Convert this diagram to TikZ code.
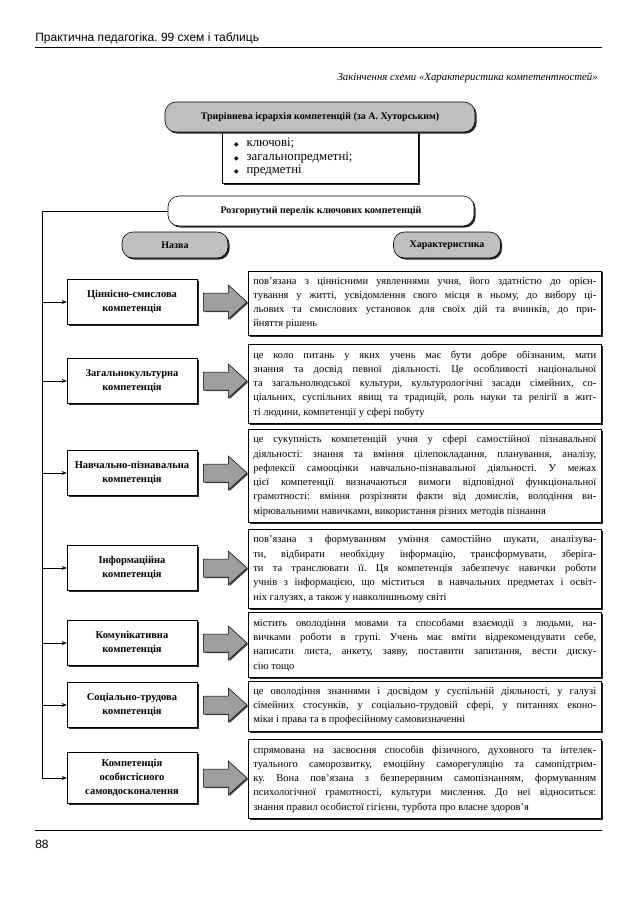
\documentclass[tikz,border=0pt]{standalone}
\usepackage{fontspec}
\setmainfont{Liberation Serif}
\newfontfamily\headfont{Liberation Sans}
\newfontfamily\symfont{DejaVu Sans}
\usepackage{tikz}
\usetikzlibrary{shadows}
\usetikzlibrary{arrows.meta}
\usetikzlibrary{calc}
\frenchspacing

\newcommand{\lbul}{{\symfont\fontsize{6}{6}\selectfont ◆}\hspace{8pt}}
% grey block arrow from a name box to its description
\newcommand{\blockarrow}[2]{%
  \draw[blockarr] ($(#1.east)+(6,-9)$) -- ($(#1.east)+(31,-9)$) -- ($(#1.east)+(31,-17)$)
    -- ($(#2.west|-#1.east)+(-1,0)$) -- ($(#1.east)+(31,17)$) -- ($(#1.east)+(31,9)$)
    -- ($(#1.east)+(6,9)$) -- cycle;}

\tikzset{
  shade/.style={drop shadow={shadow xshift=1.6pt,shadow yshift=-1.6pt,opacity=1,fill=black!85}},
  hbox/.style={draw,rounded corners=11pt,fill=black!25,inner sep=0pt,font=\bfseries\fontsize{10}{12}\selectfont,shade},
  wbox/.style={draw,rounded corners=11pt,fill=white,inner sep=0pt,font=\bfseries\fontsize{10}{12}\selectfont,shade},
  listbox/.style={draw,fill=white,text width=172pt,inner xsep=12pt,inner ysep=7pt,align=left,font=\fontsize{12.8}{13.6}\selectfont,shade},
  namebox/.style={draw,fill=white,minimum width=130pt,minimum height=45pt,align=center,font=\bfseries\fontsize{10.5}{14}\selectfont,shade},
  blockarr/.style={draw,fill=black!38,line width=0.5pt,drop shadow={shadow xshift=1.2pt,shadow yshift=-1.2pt,opacity=1,fill=black!70}},
  descr/.style={draw,fill=white,text width=343pt,inner xsep=5pt,inner ysep=6pt,align=justify,font=\fontsize{10.5}{14.3}\selectfont,shade},
  link/.style={-{Stealth[length=5pt,width=4pt]}}
}

\begin{document}
\begin{tikzpicture}[x=1pt,y=-1pt,line width=0.6pt]
\useasboundingbox (0,0) rectangle (638,903);
% page head
\node[anchor=base west,inner sep=0pt,font=\headfont\fontsize{12}{14}\selectfont] at (35,41) (title){Практична педагогіка. 99 схем і таблиць};
\draw[line width=1pt] (35,47) -- (602,47);
\node[anchor=base east,inner sep=0pt,font=\itshape\fontsize{10.8}{12}\selectfont] at (598,80) (caption){Закінчення схеми «Характеристика компетентностей»};

% hierarchy
\node[listbox,anchor=north] at (320,131) (lvl){\lbul ключові;\\\lbul загальнопредметні;\\\lbul предметні};
\node[hbox,minimum width=310pt,minimum height=30pt] at (320,117) (hier){Трирівнева ієрархія компетенцій (за А. Хуторським)};

\node[wbox,minimum width=306pt,minimum height=30pt] at (321,211) (full){Розгорнутий перелік ключових компетенцій};
\node[hbox,minimum width=106pt,minimum height=26pt] at (175,245) (name){Назва};
\node[hbox,minimum width=107pt,minimum height=26pt] at (447,245) (char){Характеристика};

% rows
\node[namebox] at (132,302) (c1){Ціннісно-смислова\\компетенція};
\node[descr,anchor=west] at ([xshift=116pt,yshift=-1pt]c1.center) (d1){пов’язана з ціннісними уявленнями учня, його здатністю до орієн-\linebreak
тування у житті, усвідомлення свого місця в ньому, до вибору ці-\linebreak
льових та смислових установок для своїх дій та вчинків, до при-\linebreak
йняття рішень};
\blockarrow{c1}{d1}

\node[namebox] at (132,381) (c2){Загальнокультурна\\компетенція};
\node[descr,anchor=west] at ([xshift=116pt,yshift=-3pt]c2.center) (d2){це коло питань у яких учень має бути добре обізнаним, мати\linebreak
знання та досвід певної діяльності. Це особливості національної\linebreak
та загальнолюдської культури, культурологічні засади сімейних, со-\linebreak
ціальних, суспільних явищ та традицій, роль науки та релігії в жит-\linebreak
ті людини, компетенції у сфері побуту};
\blockarrow{c2}{d2}

\node[namebox] at (132,473) (c3){Навчально-пізнавальна\\компетенція};
\node[descr,anchor=west] at ([xshift=116pt,yshift=-3pt]c3.center) (d3){це сукупність компетенцій учня у сфері самостійної пізнавальної\linebreak
діяльності: знання та вміння цілепокладання, планування, аналізу,\linebreak
рефлексії самооцінки навчально-пізнавальної діяльності. У межах\linebreak
цієї компетенції визначаються вимоги відповідної функціональної\linebreak
грамотності: вміння розрізняти факти від домислів, володіння ви-\linebreak
мірювальними навичками, використання різних методів пізнання};
\blockarrow{c3}{d3}

\node[namebox] at (132,568) (c4){Інформаційна\\компетенція};
\node[descr,anchor=west] at ([xshift=116pt,yshift=-1pt]c4.center) (d4){пов’язана з формуванням уміння самостійно шукати, аналізува-\linebreak
ти, відбирати необхідну інформацію, трансформувати, зберіга-\linebreak
ти та транслювати її. Ця компетенція забезпечує навички роботи\linebreak
учнів з інформацією, що міститься \ в навчальних предметах і освіт-\linebreak
ніх галузях, а також у навколишньому світі};
\blockarrow{c4}{d4}

\node[namebox] at (132,643) (c5){Комунікативна\\компетенція};
\node[descr,anchor=west] at ([xshift=116pt,yshift=-2pt]c5.center) (d5){містить оволодіння мовами та способами взаємодії з людьми, на-\linebreak
вичками роботи в групі. Учень має вміти відрекомендувати себе,\linebreak
написати листа, анкету, заяву, поставити запитання, вести диску-\linebreak
сію тощо};
\blockarrow{c5}{d5}

\node[namebox] at (132,705) (c6){Соціально-трудова\\компетенція};
\node[descr,anchor=west] at ([xshift=116pt,yshift=-1pt]c6.center) (d6){це оволодіння знаннями і досвідом у суспільній діяльності, у галузі\linebreak
сімейних стосунків, у соціально-трудовій сфері, у питаннях еконо-\linebreak
міки і права та в професійному самовизначенні};
\blockarrow{c6}{d6}

\node[namebox,minimum height=51pt] at (132,778) (c7){Компетенція\\особистісного\\самовдосконалення};
\node[descr,anchor=west] at ([xshift=116pt,yshift=-1pt]c7.center) (d7){спрямована на засвоєння способів фізичного, духовного та інтелек-\linebreak
туального саморозвитку, емоційну саморегуляцію та самопідтрим-\linebreak
ку. Вона пов’язана з безперервним самопізнанням, формуванням\linebreak
психологічної грамотності, культури мислення. До неї відноситься:\linebreak
знання правил особистої гігієни, турбота про власне здоров’я};
\blockarrow{c7}{d7}

% trunk
\coordinate (trunk) at (42,211);
\draw[link] (full.west) -- (trunk) |- (c7.west);
\draw[link] (c1.west -| trunk) -- (c1.west);
\draw[link] (c2.west -| trunk) -- (c2.west);
\draw[link] (c3.west -| trunk) -- (c3.west);
\draw[link] (c4.west -| trunk) -- (c4.west);
\draw[link] (c5.west -| trunk) -- (c5.west);
\draw[link] (c6.west -| trunk) -- (c6.west);

% page foot
\draw[line width=0.8pt] (35,830) -- (602,830);
\node[anchor=base west,inner sep=0pt,font=\headfont\fontsize{12}{14}\selectfont] at (35,848) (page){88};
\end{tikzpicture}
\end{document}
